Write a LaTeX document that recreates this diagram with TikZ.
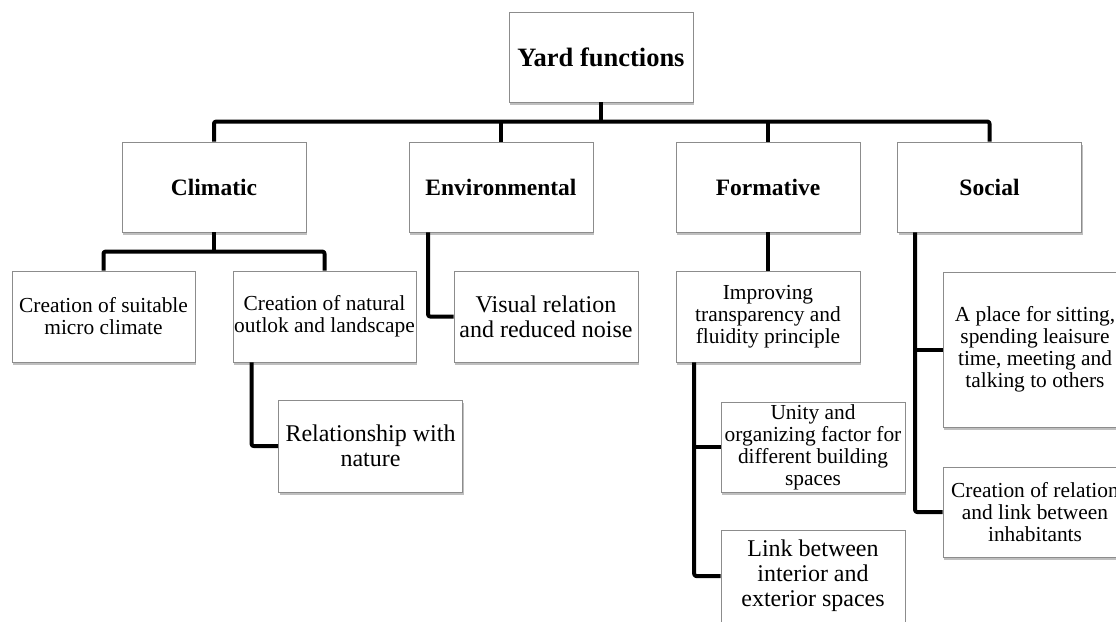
\documentclass[tikz,border=0pt]{standalone}
\usepackage{fontspec}
\setmainfont{Liberation Serif}
\usetikzlibrary{shadows,calc}
\definecolor{boxgray}{HTML}{8C8C8C}
\begin{document}
\begin{tikzpicture}[x=1pt,y=-1pt,
  box/.style={draw=boxgray, line width=0.8pt, fill=white, inner sep=0pt, align=center,
    drop shadow={shadow xshift=1.2pt, shadow yshift=-2.5pt, opacity=0.5, fill=gray}},
  conn/.style={line width=4pt, rounded corners=2pt, line join=round},
  ftop/.style={font=\fontsize{26.5}{30}\selectfont\bfseries},
  fmid/.style={font=\fontsize{23.5}{26}\selectfont\bfseries},
  fsmall/.style={font=\fontsize{21.4}{22}\selectfont},
  fbig/.style={font=\fontsize{24}{25}\selectfont}]
\useasboundingbox (0,0) rectangle (1116,621);
\clip (0,0) rectangle (1116,621);
\fill[white] (0,0) rectangle (1116,621);

% level 0
\node[box, ftop, minimum width=184pt, minimum height=90pt] (yard) at (601,57) {Yard functions};
% level 1
\node[box, fmid, minimum width=184pt, minimum height=90pt] (climatic) at (214,187) {Climatic};
\node[box, fmid, minimum width=184pt, minimum height=90pt] (env) at (501,187) {Environmental};
\node[box, fmid, minimum width=184pt, minimum height=90pt] (formative) at (768,187) {Formative};
\node[box, fmid, minimum width=184pt, minimum height=90pt] (social) at (989.5,187) {Social};
% level 2
\node[box, fsmall, minimum width=183pt, minimum height=91pt] (suitable) at (103.5,316.5) {Creation of suitable\\micro climate};
\node[box, fsmall, minimum width=183pt, minimum height=91pt] (natural) at (324.5,316.5) {Creation of natural\\outlok and landscape};
\node[box, fbig, minimum width=184pt, minimum height=91pt] (visual) at (546,316.5) {Visual relation\\and reduced noise};
\node[box, fsmall, minimum width=184pt, minimum height=91pt] (improving) at (768,316.5) {Improving\\transparency and\\fluidity principle};
\node[box, fsmall, minimum width=184pt, minimum height=155pt] (place) at (1035,349.5) {A place for sitting,\\spending leaisure\\time, meeting and\\talking to others};
% level 3
\node[box, fbig, minimum width=184pt, minimum height=92pt] (relation) at (370.5,446) {Relationship with\\nature};
\node[box, fsmall, minimum width=184pt, minimum height=90pt] (unity) at (813,447) {Unity and\\organizing factor for\\different building\\spaces};
\node[box, fbig, minimum width=184pt, minimum height=92pt] (link) at (813,576) {Link between\\interior and\\exterior spaces};
\node[box, fsmall, minimum width=184pt, minimum height=90pt] (crel) at (1035,512) {Creation of relation\\and link between\\inhabitants};

% connectors
\draw[conn] (yard.south) -- ++(0,20);
\draw[conn] (climatic.north) -- ++(0,-20) -| (social.north);
\draw[conn] (env.north) -- ++(0,-20);
\draw[conn] (formative.north) -- ++(0,-20);

\draw[conn] (climatic.south) -- ++(0,20);
\draw[conn] (suitable.north) -- ++(0,-19) -| (natural.north);

\draw[conn] (env.south west) ++(19.5,0) |- (visual.west);
\draw[conn] (natural.south west) ++(19,0) |- (relation.west);

\draw[conn] (formative.south) -- (improving.north);
\coordinate (fv) at ($(improving.south west)+(18.6,0)$);
\draw[conn] (fv) |- (link.west);
\draw[conn] (unity.west) -- (unity.west -| fv);

\coordinate (sv) at ($(social.south west)+(18,0)$);
\draw[conn] (sv) |- (crel.west);
\draw[conn] (place.west) -- (place.west -| sv);
\end{tikzpicture}
\end{document}
